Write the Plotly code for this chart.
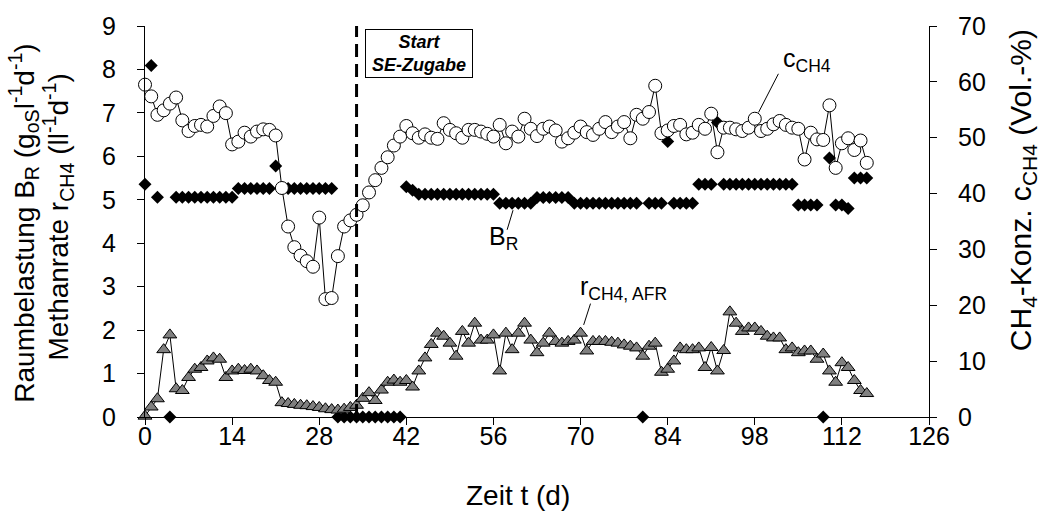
import plotly.graph_objects as go

# ---------------- data ----------------
days = list(range(0, 117))

# Methane concentration c_CH4 (Vol.-%)
c_ch4 = [59.5, 57.4, 54.1, 54.9, 56.1, 57.2, 53.1, 51.2, 52.1, 52.3,
         52.0, 53.9, 55.6, 54.4, 48.8, 49.3, 50.9, 50.2, 51.1, 51.5,
         51.4, 50.4, 41.0, 34.1, 30.4, 28.9, 27.9, 26.9, 35.7, 21.1,
         21.3, 28.8, 34.1, 35.2, 36.2, 37.9, 40.2, 42.4, 44.6, 46.5,
         48.6, 50.2, 52.1, 50.8, 50.0, 50.6, 50.0, 49.8, 52.6, 51.4,
         50.8, 50.0, 51.4, 51.4, 51.1, 50.7, 50.2, 52.3, 49.0, 51.1,
         50.2, 53.4, 51.6, 50.3, 51.6, 52.0, 51.3, 49.3, 49.9, 50.9,
         52.0, 51.0, 50.5, 51.6, 52.8, 51.0, 52.0, 52.8, 49.9, 54.1,
         53.4, 54.6, 59.3, 50.8, 51.3, 52.1, 52.3, 50.6, 50.9, 52.3,
         51.6, 54.3, 47.4, 51.8, 51.8, 51.5, 51.2, 51.8, 53.4, 51.2,
         51.6, 52.4, 53.0, 52.3, 51.8, 51.6, 46.1, 50.9, 49.7, 49.6,
         55.8, 44.6, 49.0, 49.9, 47.8, 49.5, 45.5]

# Methane rate r_CH4,AFR (l l^-1 d^-1)
r_ch4 = [0.02, 0.23, 0.42, 1.55, 1.89, 0.65, 0.61, 0.91, 1.10, 1.14,
         1.29, 1.36, 1.33, 0.91, 1.06, 1.10, 1.07, 1.10, 1.06, 0.95,
         0.84, 0.80, 0.33, 0.31, 0.29, 0.27, 0.26, 0.24, 0.22, 0.19,
         0.17, 0.16, 0.18, 0.22, 0.27, 0.43, 0.56, 0.38, 0.62, 0.80,
         0.85, 0.80, 0.84, 0.69, 1.06, 1.36, 1.67, 1.93, 1.86, 1.70,
         1.40, 1.97, 1.70, 2.16, 1.77, 1.77, 1.89, 1.06, 1.93, 1.55,
         1.93, 2.16, 1.77, 1.48, 1.70, 1.93, 1.74, 1.70, 1.74, 1.77,
         1.93, 1.52, 1.74, 1.74, 1.74, 1.72, 1.70, 1.66, 1.63, 1.59,
         1.40, 1.63, 1.70, 1.03, 1.10, 1.29, 1.59, 1.55, 1.55, 1.59,
         1.14, 1.60, 1.06, 1.53, 2.42, 2.16, 1.97, 2.05, 2.05, 1.97,
         1.86, 1.82, 1.82, 1.55, 1.59, 1.48, 1.52, 1.52, 1.33, 1.45,
         1.06, 0.80, 1.25, 1.14, 0.84, 0.61, 0.54]

# Organic loading rate B_R (g_oS l^-1 d^-1), None = no value
b_r = ([5.36, 8.09, 5.06, None, 0.0] + [5.06] * 10 + [5.26] * 6 + [5.78]
       + [5.26] * 9 + [0.0] * 11 + [5.30, 5.22] + [5.13] * 13 + [4.92] * 6
       + [5.05] * 6 + [4.92] * 11 + [0.0] + [4.92] * 3 + [6.34] + [4.92] * 4
       + [5.36] * 3 + [6.78] + [5.36] * 12 + [4.88] * 4 + [0.0, 5.96, 4.88, 4.88, 4.80]
       + [5.50] * 3)

x_ticks = [0, 14, 28, 42, 56, 70, 84, 98, 112, 126]
y_ticks = list(range(0, 10))
y2_ticks = list(range(0, 71, 10))
start_day = 34

FONT = "Liberation Sans, Arial, sans-serif"

fig = go.Figure()

fig.add_trace(go.Scatter(
    x=days, y=b_r, mode="markers", name="B_R",
    marker=dict(symbol="diamond", size=10, color="black",
                line=dict(color="black", width=0)),
    cliponaxis=False, yaxis="y"))

fig.add_trace(go.Scatter(
    x=days, y=r_ch4, mode="lines+markers", name="r_CH4",
    line=dict(color="black", width=1),
    marker=dict(symbol="triangle-up", size=12, color="#808080",
                line=dict(color="black", width=1)),
    cliponaxis=False, yaxis="y"))

fig.add_trace(go.Scatter(
    x=days, y=c_ch4, mode="lines+markers", name="c_CH4",
    line=dict(color="black", width=1),
    marker=dict(symbol="circle", size=13, color="white",
                line=dict(color="black", width=1)),
    cliponaxis=False, yaxis="y2"))

axis_common = dict(showgrid=False, zeroline=False, showline=True,
                   linecolor="black", linewidth=1, ticks="outside",
                   ticklen=7, tickcolor="black", tickwidth=1,
                   tickfont=dict(family=FONT, size=25, color="black"))

fig.update_layout(
    width=1049, height=529,
    margin=dict(l=145, r=120, t=19, b=112),
    paper_bgcolor="white", plot_bgcolor="white",
    showlegend=False,
    xaxis=dict(range=[0, 126], tickvals=x_ticks, ticklabelstandoff=-10, **axis_common),
    yaxis=dict(range=[0, 9], tickvals=y_ticks, ticklabelstandoff=16, **axis_common),
    yaxis2=dict(range=[0, 70], tickvals=y2_ticks, overlaying="y", side="right",
                anchor="x", ticklabelstandoff=16, **axis_common),
)

# dashed start line
fig.add_shape(type="line", xref="x", yref="y", x0=start_day, x1=start_day,
              y0=0, y1=9, line=dict(color="black", width=3, dash="13px,7px"))

# leader lines
fig.add_shape(type="line", xref="x", yref="y", x0=101.8, y0=7.90, x1=98.6, y1=7.01,
              line=dict(color="black", width=1))
fig.add_shape(type="line", xref="x", yref="y", x0=59.15, y0=4.76, x1=58.2, y1=4.31,
              line=dict(color="black", width=1))
fig.add_shape(type="line", xref="x", yref="y", x0=71.6, y0=2.61, x1=70.5, y1=2.12,
              line=dict(color="black", width=1))

lab_font = dict(family=FONT, size=25, color="black")

fig.add_annotation(x=102.2, y=8.22, xref="x", yref="y", text="c<sub>CH4</sub>",
                   showarrow=False, xanchor="left", yanchor="middle", font=lab_font)
fig.add_annotation(x=55.0, y=4.12, xref="x", yref="y", text="B<sub>R</sub>",
                   showarrow=False, xanchor="left", yanchor="middle", font=lab_font)
fig.add_annotation(x=69.6, y=2.98, xref="x", yref="y", text="r<sub>CH4, AFR</sub>",
                   showarrow=False, xanchor="left", yanchor="middle", font=lab_font)

fig.add_annotation(x=44.0, y=8.36, xref="x", yref="y",
                   text="<b><i>Start<br>SE-Zugabe</i></b>", showarrow=False,
                   xanchor="center", yanchor="middle", width=104, height=45,
                   bordercolor="black", borderwidth=1, borderpad=1, bgcolor="white",
                   font=dict(family=FONT, size=18, color="black"))

# axis titles
fig.add_annotation(x=-0.154, y=0.495, xref="paper", yref="paper", textangle=-90,
                   text="Raumbelastung B<sub>R</sub> (g<sub>oS</sub>l<sup>-1</sup>d<sup>-1</sup>)",
                   showarrow=False, xanchor="center", yanchor="middle",
                   font=dict(family=FONT, size=28, color="black"))
fig.add_annotation(x=-0.111, y=0.5126, xref="paper", yref="paper", textangle=-90,
                   text="Methanrate r<sub>CH4</sub> (ll<sup>-1</sup>d<sup>-1</sup>)",
                   showarrow=False, xanchor="center", yanchor="middle",
                   font=dict(family=FONT, size=28, color="black"))
fig.add_annotation(x=1.1186, y=0.58, xref="paper", yref="paper", textangle=-90,
                   text="CH<sub>4</sub>-Konz. c<sub>CH4</sub> (Vol.-%)",
                   showarrow=False, xanchor="center", yanchor="middle",
                   font=dict(family=FONT, size=30, color="black"))
fig.add_annotation(x=0.4758, y=-0.201, xref="paper", yref="paper",
                   text="Zeit t (d)", showarrow=False, xanchor="center",
                   yanchor="middle", font=dict(family=FONT, size=28, color="black"))

fig.write_html("out.html")
